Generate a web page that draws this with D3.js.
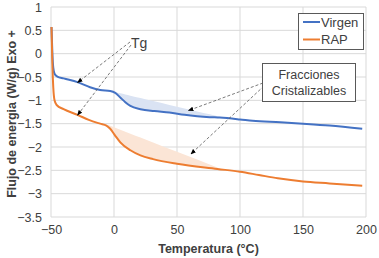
<!DOCTYPE html>
<html>
<head>
<meta charset="utf-8">
<script src="https://cdn.jsdelivr.net/npm/d3@7"></script>
<style>
  body { margin: 0; background: #fff; }
  text { font-family: "Liberation Sans", Arial, sans-serif; fill: #404040; }
</style>
</head>
<body>
<svg id="chart"></svg>
<script>
// temperature (°C) and heat flow (W/g)
const virgen = [
  [-49.6, 0.57], [-48.9, 0.0], [-48.2, -0.3], [-47.2, -0.43], [-45, -0.49], [-40, -0.53],
  [-29, -0.61], [-19, -0.72], [-11, -0.78], [-3, -0.8], [1, -0.84], [5, -0.94],
  [9, -1.04], [13, -1.12], [21, -1.19], [32, -1.23], [44, -1.26], [56, -1.31],
  [66, -1.34], [76, -1.36], [84, -1.37], [100, -1.41], [110, -1.44], [132, -1.47],
  [150, -1.5], [171, -1.54], [197, -1.61]
];
const rap = [
  [-49.6, 0.57], [-48.9, -0.25], [-48.2, -0.72], [-47.2, -1.0], [-45.5, -1.1], [-40, -1.19],
  [-29, -1.31], [-20, -1.42], [-11, -1.5], [-6, -1.54], [-3, -1.61], [1, -1.76],
  [5, -1.9], [13, -2.07], [21, -2.18], [31, -2.26], [50, -2.36], [82, -2.47],
  [100, -2.53], [115, -2.6], [130, -2.67], [150, -2.74], [171, -2.78], [197, -2.83]
];
// straight chords bounding the crystallizable fractions
const virgenChord = [[-3, -0.8], [87, -1.37]];
const rapChord = [[-5.5, -1.52], [86, -2.48]];

const xTicks = [-50, 0, 50, 100, 150, 200];
const yTicks = [1, 0.5, 0, -0.5, -1, -1.5, -2, -2.5, -3, -3.5];
const seriesNames = ["Virgen", "RAP"];
const colors = ["#4472c4", "#ed7d31"];
const fills = ["#dae3f3", "#fbe5d6"];

const width = 379, height = 258;
const margin = {left: 51, right: 13, top: 7, bottom: 41};

const svg = d3.select("#chart").attr("width", width).attr("height", height);

const x = d3.scaleLinear().domain([-50, 200]).range([margin.left, width - margin.right]);
const y = d3.scaleLinear().domain([-3.5, 1]).range([height - margin.bottom, margin.top]);

// grid
svg.append("g").selectAll("line").data(yTicks).enter().append("line")
  .attr("x1", x(-50)).attr("x2", x(200))
  .attr("y1", d => y(d)).attr("y2", d => y(d))
  .attr("stroke", "#d9d9d9").attr("stroke-width", 1);
svg.append("g").selectAll("line").data(xTicks).enter().append("line")
  .attr("y1", y(1)).attr("y2", y(-3.5))
  .attr("x1", d => x(d)).attr("x2", d => x(d))
  .attr("stroke", "#d9d9d9").attr("stroke-width", 1);

// tick labels
let axLeft = svg.append("g").attr("transform", "translate(" + x(-50) + ",0)")
  .call(d3.axisLeft(y).tickValues(yTicks).tickSize(0).tickPadding(9).tickFormat(d3.format("")));
axLeft.select(".domain").remove();
axLeft.selectAll("text").style("font-size", "12.5px").style("font-family", "Liberation Sans, Arial, sans-serif").attr("fill", "#404040");

let axBottom = svg.append("g").attr("transform", "translate(0," + y(-3.5) + ")")
  .call(d3.axisBottom(x).tickValues(xTicks).tickSize(0).tickPadding(8).tickFormat(d3.format("")));
axBottom.select(".domain").remove();
axBottom.selectAll("text").style("font-size", "12.5px").style("font-family", "Liberation Sans, Arial, sans-serif").attr("fill", "#404040");

// shaded fractions
let fillArea = function(data, chord, color) {
  let lo = chord[0][0], hi = chord[1][0];
  let chordAt = t => chord[0][1] + (t - lo) / (hi - lo) * (chord[1][1] - chord[0][1]);
  let pts = data.filter(d => d[0] > lo && d[0] < hi);
  let poly = [chord[0]].concat(pts.map(d => [d[0], d[1]])).concat([chord[1]]);
  let area = d3.area()
    .x(d => x(d[0]))
    .y0(d => y(d[1]))
    .y1(d => y(chordAt(d[0])))
    .curve(d3.curveMonotoneX);
  svg.append("path").attr("d", area(poly)).attr("fill", color).attr("stroke", "none");
};
fillArea(virgen, virgenChord, fills[0]);
fillArea(rap, rapChord, fills[1]);

// series lines
let line = d3.line().x(d => x(d[0])).y(d => y(d[1])).curve(d3.curveMonotoneX);
[virgen, rap].forEach((data, i) => {
  svg.append("path").attr("d", line(data))
    .attr("fill", "none").attr("stroke", colors[i]).attr("stroke-width", 2)
    .attr("stroke-linejoin", "round");
});

// arrows
svg.append("defs").append("marker")
  .attr("id", "arrow").attr("viewBox", "0 0 10 10")
  .attr("refX", 9).attr("refY", 5).attr("markerWidth", 7).attr("markerHeight", 7)
  .attr("orient", "auto")
  .append("path").attr("d", "M0,1 L10,5 L0,9 z").attr("fill", "#000");

const arrows = [
  [[130, 42], [-29, -0.62]],
  [[131, 45], [-29, -1.32]],
  [[263, 83], [59, -1.22]],
  [[264, 86], [61, -2.15]]
];
arrows.forEach(a => {
  svg.append("line")
    .attr("x1", a[0][0]).attr("y1", a[0][1])
    .attr("x2", x(a[1][0])).attr("y2", y(a[1][1]))
    .attr("stroke", "#595959").attr("stroke-width", 0.8)
    .attr("stroke-dasharray", "3,2")
    .attr("marker-end", "url(#arrow)");
});

svg.append("text").attr("x", 131).attr("y", 48)
  .style("font-size", "14px").attr("fill", "#262626").text("Tg");

// annotation box
let ann = svg.append("g");
ann.append("rect").attr("x", 262.5).attr("y", 63.5).attr("width", 93).attr("height", 38)
  .attr("fill", "#fff").attr("stroke", "#595959").attr("stroke-width", 1);
ann.append("text").attr("x", 309).attr("y", 79).attr("text-anchor", "middle")
  .style("font-size", "12.5px").attr("fill", "#262626").text("Fracciones");
ann.append("text").attr("x", 309).attr("y", 95).attr("text-anchor", "middle")
  .style("font-size", "12.5px").attr("fill", "#262626").text("Cristalizables");

// legend
let leg = svg.append("g");
leg.append("rect").attr("x", 298.5).attr("y", 13.5).attr("width", 65).attr("height", 36)
  .attr("fill", "#fff").attr("stroke", "#595959").attr("stroke-width", 1);
seriesNames.forEach((name, i) => {
  let yy = 22 + i * 17.5;
  leg.append("line").attr("x1", 303).attr("x2", 320).attr("y1", yy).attr("y2", yy)
    .attr("stroke", colors[i]).attr("stroke-width", 2);
  leg.append("text").attr("x", 321).attr("y", yy + 4.5)
    .style("font-size", "13px").attr("fill", "#262626").text(name);
});

// axis titles
svg.append("text")
  .attr("x", x(75)).attr("y", 253).attr("text-anchor", "middle")
  .style("font-size", "12.5px").style("font-weight", "bold").attr("fill", "#000")
  .text("Temperatura (°C)");
svg.append("text")
  .attr("transform", "translate(15.5,114) rotate(-90)")
  .attr("text-anchor", "middle")
  .style("font-size", "12.5px").style("font-weight", "bold").attr("fill", "#000")
  .text("Flujo de energia (W/g) Exo +");
</script>
</body>
</html>
